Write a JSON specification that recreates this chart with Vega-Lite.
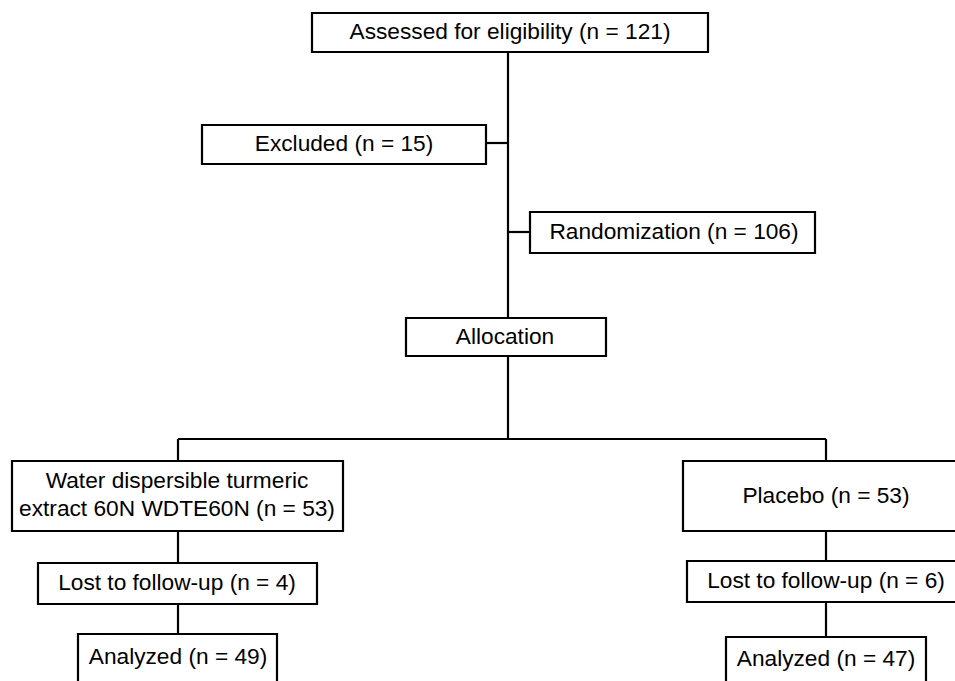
{
  "$schema": "https://vega.github.io/schema/vega-lite/v6.json",
  "width": 955,
  "height": 681,
  "padding": 0,
  "autosize": {"type": "fit", "contains": "padding"},
  "background": "white",
  "config": {"view": {"stroke": null}},
  "datasets": {
    "boxes": [
      {"label": "Assessed for eligibility (n = 121)", "x1": 312, "x2": 708, "y1": 13, "y2": 52, "tx": 510, "ty": 32},
      {"label": "Excluded (n = 15)", "x1": 202, "x2": 486, "y1": 125, "y2": 164, "tx": 344, "ty": 144},
      {"label": "Randomization (n = 106)", "x1": 530, "x2": 815, "y1": 212, "y2": 253, "tx": 674, "ty": 232},
      {"label": "Allocation", "x1": 406, "x2": 606, "y1": 318, "y2": 356, "tx": 505, "ty": 337},
      {"label": "Water dispersible turmeric\nextract 60N WDTE60N (n = 53)", "x1": 12, "x2": 343, "y1": 461, "y2": 531, "tx": 177, "ty": 481},
      {"label": "Placebo (n = 53)", "x1": 683, "x2": 970, "y1": 461, "y2": 531, "tx": 826, "ty": 496},
      {"label": "Lost to follow-up (n = 4)", "x1": 38, "x2": 317, "y1": 563, "y2": 604, "tx": 177, "ty": 583},
      {"label": "Lost to follow-up (n = 6)", "x1": 687, "x2": 970, "y1": 561, "y2": 602, "tx": 826, "ty": 581},
      {"label": "Analyzed (n = 49)", "x1": 78, "x2": 277, "y1": 634, "y2": 700, "tx": 178, "ty": 657},
      {"label": "Analyzed (n = 47)", "x1": 726, "x2": 926, "y1": 637, "y2": 700, "tx": 826, "ty": 659}
    ],
    "links": [
      {"x1": 508, "x2": 508, "y1": 52, "y2": 318},
      {"x1": 486, "x2": 508, "y1": 143, "y2": 143},
      {"x1": 508, "x2": 530, "y1": 232, "y2": 232},
      {"x1": 508, "x2": 508, "y1": 356, "y2": 439},
      {"x1": 178, "x2": 826, "y1": 439, "y2": 439},
      {"x1": 178, "x2": 178, "y1": 439, "y2": 461},
      {"x1": 826, "x2": 826, "y1": 439, "y2": 461},
      {"x1": 178, "x2": 178, "y1": 531, "y2": 563},
      {"x1": 826, "x2": 826, "y1": 531, "y2": 561},
      {"x1": 178, "x2": 178, "y1": 604, "y2": 634},
      {"x1": 826, "x2": 826, "y1": 602, "y2": 637}
    ]
  },
  "layer": [
    {
      "data": {"name": "links"},
      "mark": {"type": "rule", "color": "black", "strokeWidth": 2.2, "clip": true},
      "encoding": {
        "x": {"field": "x1", "type": "quantitative", "scale": {"domain": [0, 955], "nice": false, "zero": false}, "axis": null},
        "x2": {"field": "x2"},
        "y": {"field": "y1", "type": "quantitative", "scale": {"domain": [0, 681], "nice": false, "zero": false, "reverse": true}, "axis": null},
        "y2": {"field": "y2"}
      }
    },
    {
      "data": {"name": "boxes"},
      "mark": {"type": "rect", "fill": "white", "stroke": "black", "strokeWidth": 2.2, "clip": true},
      "encoding": {
        "x": {"field": "x1", "type": "quantitative", "axis": null},
        "x2": {"field": "x2"},
        "y": {"field": "y1", "type": "quantitative", "axis": null},
        "y2": {"field": "y2"}
      }
    },
    {
      "data": {"name": "boxes"},
      "mark": {"type": "text", "font": "Liberation Sans", "fontSize": 22.7, "color": "black", "align": "center", "baseline": "middle", "lineBreak": "\n", "lineHeight": 28},
      "encoding": {
        "x": {"field": "tx", "type": "quantitative", "axis": null},
        "y": {"field": "ty", "type": "quantitative", "axis": null},
        "text": {"field": "label", "type": "nominal"}
      }
    }
  ]
}
